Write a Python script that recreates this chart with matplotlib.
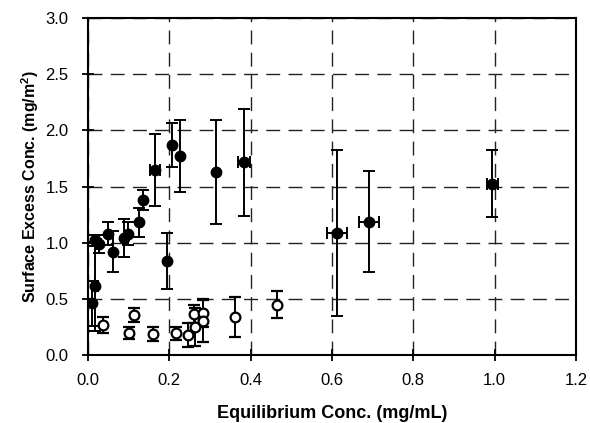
import numpy as np
import matplotlib
matplotlib.use('Agg')
import matplotlib.pyplot as plt

plt.rcParams['font.family'] = ['Liberation Sans', 'DejaVu Sans']
plt.rcParams['mathtext.fontset'] = 'custom'
plt.rcParams['mathtext.bf'] = 'Liberation Sans:bold'
plt.rcParams['mathtext.rm'] = 'Liberation Sans'

# Filled symbols
filled_x = [0.009, 0.017, 0.017, 0.027, 0.050, 0.062, 0.089, 0.099, 0.126, 0.136,
            0.165, 0.194, 0.208, 0.226, 0.315, 0.384, 0.613, 0.691, 0.995]
filled_y = [0.46, 0.61, 1.02, 0.985, 1.08, 0.92, 1.04, 1.08, 1.18, 1.38,
            1.65, 0.84, 1.87, 1.775, 1.63, 1.715, 1.09, 1.185, 1.525]
filled_yerr = [0.2, 0.4, 0.05, 0.08, 0.1, 0.18, 0.17, 0.1, 0.13, 0.09,
               0.32, 0.25, 0.2, 0.32, 0.46, 0.48, 0.74, 0.45, 0.3]
filled_xerr = [0, 0.007, 0.004, 0.004, 0, 0, 0, 0, 0, 0,
               0.012, 0, 0, 0, 0, 0.015, 0.025, 0.024, 0.014]

# Open symbols
open_x = [0.036, 0.100, 0.114, 0.161, 0.217, 0.246, 0.264, 0.261, 0.282, 0.282, 0.362, 0.464]
open_y = [0.267, 0.193, 0.356, 0.187, 0.193, 0.178, 0.252, 0.365, 0.371, 0.306, 0.34, 0.445]
open_yerr = [0.075, 0.055, 0.06, 0.06, 0.06, 0.11, 0.17, 0.08, 0.12, 0.19, 0.18, 0.12]

fig = plt.figure(figsize=(5.9, 4.23), dpi=100)
ax = fig.add_axes([0.149, 0.161, 0.827, 0.796])

ax.errorbar(filled_x, filled_y, yerr=filled_yerr, xerr=filled_xerr, fmt='o',
            color='black', ms=7.5, elinewidth=1.4, capsize=4, capthick=1.4, zorder=3)
ax.errorbar(open_x, open_y, yerr=open_yerr, fmt='o', color='black', mfc='white',
            mec='black', mew=1.6, ms=7, elinewidth=1.4, capsize=4, capthick=1.4, zorder=4)

ax.set_xlim(0, 1.2)
ax.set_ylim(0, 3.0)
ax.set_xticks(np.arange(0, 1.21, 0.2))
ax.set_yticks(np.arange(0, 3.01, 0.5))
ax.set_xticklabels([f'{v:.1f}' for v in np.arange(0, 1.21, 0.2)])
ax.set_yticklabels([f'{v:.1f}' for v in np.arange(0, 3.01, 0.5)])
ax.tick_params(direction='inout', length=8, width=1.3, labelsize=12, color='black')
ax.tick_params(axis='x', pad=9)
ax.tick_params(axis='y', pad=10)

ax.grid(True, color='#222222', linestyle=(0, (10, 6)), linewidth=1.0)
for s in ax.spines.values():
    s.set_linewidth(1.5)

ax.set_xlabel('Equilibrium Conc. (mg/mL)', fontsize=13, fontweight='bold', labelpad=12)
ax.set_ylabel('Surface Excess Conc. (mg/m$^{\\mathbf{2}}$)', fontsize=11.5,
              fontweight='bold', labelpad=3)

fig.savefig('out.png', dpi=100)
